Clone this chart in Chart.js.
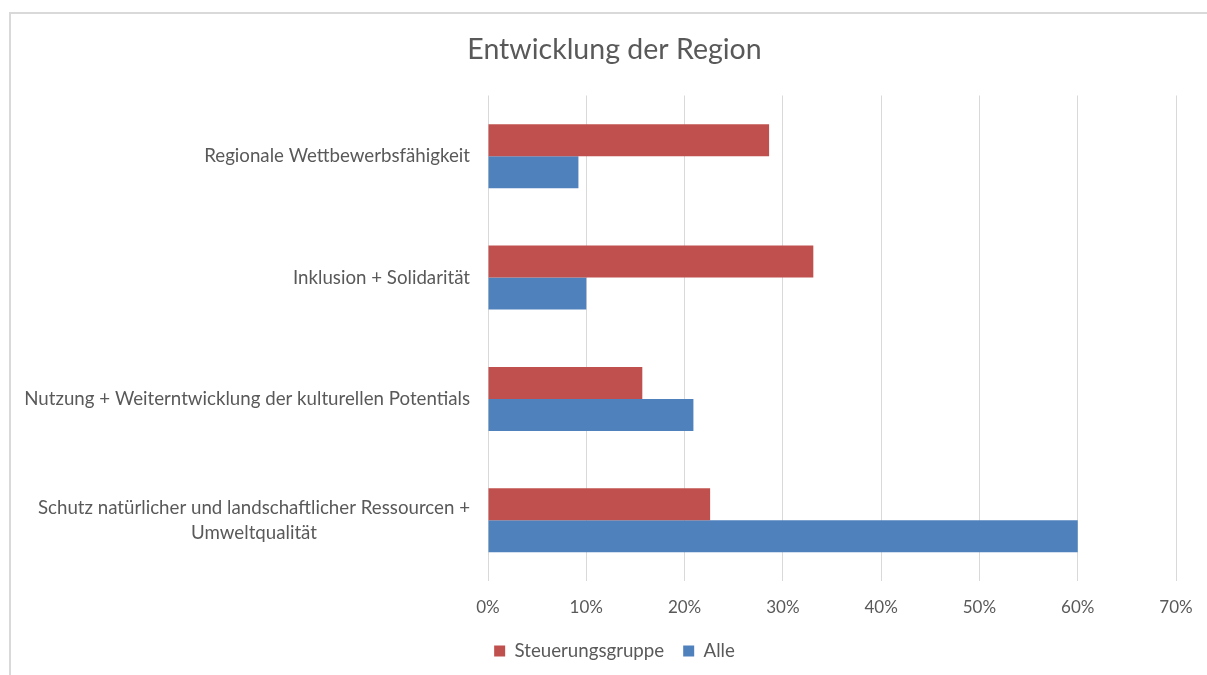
<!DOCTYPE html>
<html><head><meta charset="utf-8">
<script src="https://cdn.jsdelivr.net/npm/chart.js@4.4.1/dist/chart.umd.min.js"></script>
<style>
html,body{margin:0;padding:0;background:#fff;overflow:hidden;}
#wrap{position:relative;width:1207px;height:675px;overflow:hidden;}
#frame{position:absolute;left:9px;top:12px;width:1300px;height:800px;border-top:2px solid #D9D9D9;border-left:2px solid #D9D9D9;pointer-events:none;}
canvas{display:block;}
</style></head><body>
<div id="wrap"><canvas id="c" width="1207" height="675"></canvas><div id="frame"></div></div>
<script>
const TITLE = 'Entwicklung der Region';
const CATEGORIES = [
  'Regionale Wettbewerbsfähigkeit',
  'Inklusion + Solidarität',
  'Nutzung + Weiterntwicklung der kulturellen Potentials',
  ['Schutz natürlicher und landschaftlicher Ressourcen +', 'Umweltqualität']
];
const SERIES_NAMES = ['Steuerungsgruppe', 'Alle'];
const STEUERUNGSGRUPPE = [28.6, 33.1, 15.7, 22.6];
const ALLE = [9.2, 10.0, 20.9, 60.0];
const X_MIN = 0, X_MAX = 70, X_STEP = 10;

const FONT = 'Lato';
const TEXT = '#595959';

const yLabelPlugin = {
  id: 'yLabels',
  afterDraw(chart) {
    const ys = chart.scales.y, ctx = chart.ctx;
    ctx.save();
    ctx.font = '18.7px ' + FONT;
    ctx.fillStyle = TEXT;
    ctx.textBaseline = 'middle';
    ctx.textAlign = 'center';
    const right = ys.right - 18;
    const lh = 25;
    ys.getLabels().forEach((lab, i) => {
      const lines = Array.isArray(lab) ? lab : [lab];
      const w = Math.max(...lines.map(l => ctx.measureText(l).width));
      const cy = ys.getPixelForValue(i);
      lines.forEach((l, j) => {
        ctx.fillText(l, right - w / 2, cy + (j - (lines.length - 1) / 2) * lh);
      });
    });
    ctx.restore();
  }
};

function draw() {
  new Chart(document.getElementById('c'), {
    type: 'bar',
    data: {
      labels: CATEGORIES,
      datasets: [
        { label: SERIES_NAMES[0], data: STEUERUNGSGRUPPE, backgroundColor: '#C0504D' },
        { label: SERIES_NAMES[1], data: ALLE, backgroundColor: '#4F81BD' }
      ]
    },
    options: {
      indexAxis: 'y',
      responsive: false,
      animation: false,
      devicePixelRatio: 1,
      categoryPercentage: 0.527,
      barPercentage: 1.0,
      layout: { padding: { left: 53, right: 31, top: 12, bottom: 4.7 } },
      plugins: {
        title: {
          display: true, text: TITLE, color: TEXT,
          font: { family: FONT, size: 28.5, weight: 'normal' },
          padding: { top: 21, bottom: 28.3 }
        },
        legend: {
          position: 'bottom',
          labels: {
            color: TEXT, boxWidth: 11, boxHeight: 11, padding: 19,
            font: { family: FONT, size: 18.7 }
          }
        },
        tooltip: { enabled: false }
      },
      scales: {
        x: {
          min: X_MIN, max: X_MAX,
          ticks: {
            stepSize: X_STEP, color: TEXT, padding: 13,
            font: { family: FONT, size: 17 },
            callback: v => v + '%'
          },
          grid: { color: '#D9D9D9', lineWidth: 1, drawTicks: true, tickLength: 3, tickColor: 'rgba(0,0,0,0)' },
          border: { display: false },
          afterFit(s) { s.height = 41.6; }
        },
        y: {
          ticks: { display: false },
          grid: { display: false },
          border: { display: false },
          afterFit(s) { s.width = 435; }
        }
      }
    },
    plugins: [yLabelPlugin]
  });
}
document.fonts.load('17px ' + FONT).then(draw, draw);
</script>
</body></html>
